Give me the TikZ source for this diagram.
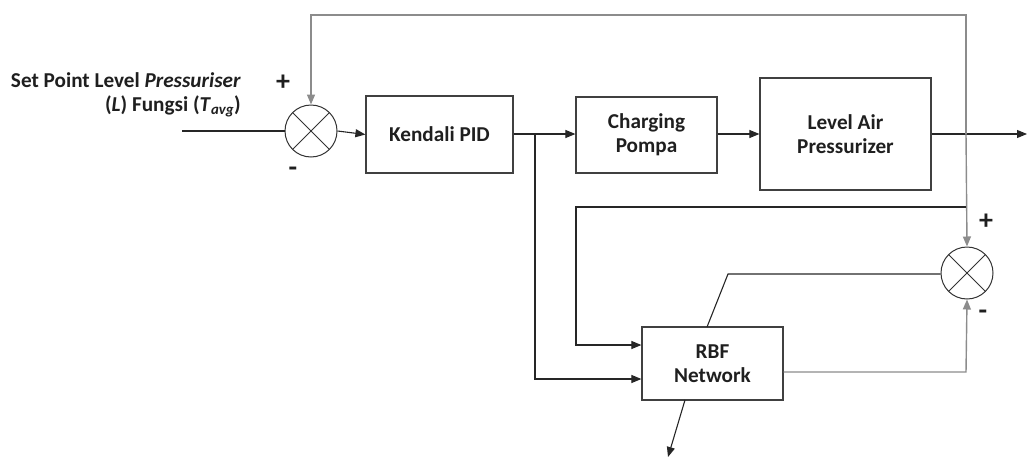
\documentclass[tikz,border=0pt]{standalone}
\usepackage{fontspec}
\setmainfont{Carlito}
\usetikzlibrary{arrows.meta}
\begin{document}
\begin{tikzpicture}[x=1pt,y=-1pt,
  every node/.style={font=\fontsize{21.2}{24}\selectfont\bfseries, text=black!88},
  blk/.style={draw=black!75, line width=1.2pt, inner sep=0pt, align=center},
  sumnode/.style={circle, draw=black!80, line width=1pt, minimum size=52pt, inner sep=0pt,
    path picture={\draw[black!80, line width=0.8pt] (path picture bounding box.north west) -- (path picture bounding box.south east)
      (path picture bounding box.north east) -- (path picture bounding box.south west);}},
  conn/.style={draw=black!85, line width=1.1pt},
  fb/.style={draw=black!45, line width=1.4pt},
  arr/.style={-{Triangle[length=10pt,width=8pt]}},
  sign/.style={inner sep=0pt, font=\fontsize{28}{30}\selectfont\bfseries}
]
\useasboundingbox (0,0) rectangle (1027,458);

% nodes
\node[sumnode] (s1) at (311,131) {};
\node[sumnode] (s2) at (967,273) {};
\node[blk, minimum width=147pt, minimum height=77pt] (pid) at (439.5,134.5) {Kendali PID};
\node[blk, minimum width=141pt, minimum height=76pt] (cp) at (646.5,135) {Charging\\Pompa};
\node[blk, minimum width=171pt, minimum height=112pt] (lap) at (845.5,134) {Level Air\\Pressurizer};
\node[blk, minimum width=141pt, minimum height=73pt] (rbf) at (712.5,363.5) {RBF\\Network};

\node[align=right, anchor=east, inner sep=0pt] (sp) at (241,95) {Set Point Level \textit{Pressuriser}\\(\textit{L}) Fungsi (\textit{T}\textsubscript{\textit{avg}})};

\node[sign] (p1) at (283,83) {+};
\node[sign] (m1) at (293,172) {-};
\node[sign] (p2) at (986,222) {+};
\node[sign] (m2) at (983,315) {-};

% coordinates
\coordinate (in) at (182,131);
\coordinate (meas) at (966,134);
\coordinate (topr) at (966,15);
\coordinate (topl) at (311,15);
\coordinate (out) at (1027,134);
\coordinate (br) at (535,134);
\coordinate (brd) at (535,379);
\coordinate (lp1) at (966,207);
\coordinate (lp2) at (576,207);
\coordinate (lp3) at (576,345);
\coordinate (dg1) at (707,327);
\coordinate (dg2) at (728,274);
\coordinate (rr) at (966,372);
\coordinate (rb1) at (685,400);
\coordinate (rb2) at (668,457);

% connectors
\draw[conn] (in) -- (s1.west);
\draw[conn, arr] (s1.east) -- (pid.west);
\draw[conn, arr] (pid.east |- br) -- (br) -- (cp.west |- br);
\draw[conn, arr] (br) -- (brd) -- (rbf.west |- brd);
\draw[conn, arr] (cp.east |- meas) -- (lap.west |- meas);
\draw[conn, arr] (lap.east |- meas) -- (out);
\draw[fb, arr] (meas) -- (topr) -- (topl) -- (s1.north);
\draw[fb, arr] (meas) -- (s2.north);
\draw[conn, arr] (lp1) -- (lp2) -- (lp3) -- (rbf.west |- lp3);
\draw[conn] (dg1) -- (dg2) -- (s2.west |- dg2);
\draw[fb, arr] (rbf.east |- rr) -- (rr) -- (s2.south);
\draw[conn, arr] (rb1) -- (rb2);
\end{tikzpicture}
\end{document}
